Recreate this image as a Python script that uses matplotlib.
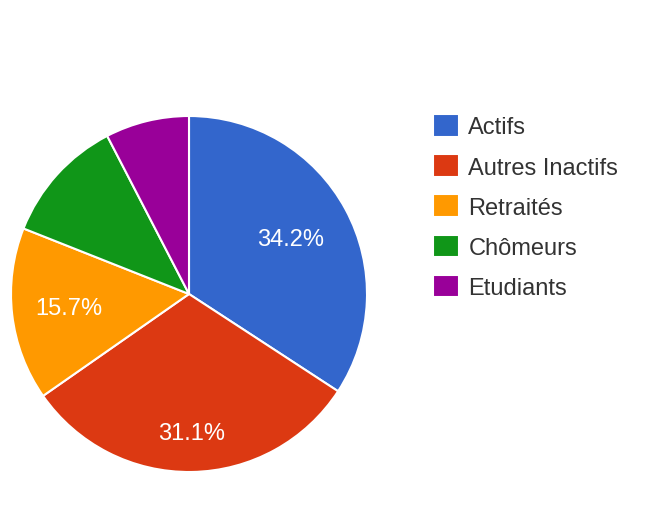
import numpy as np
import matplotlib.pyplot as plt

labels = ["Actifs", "Autres Inactifs", "Retraités", "Chômeurs", "Etudiants"]
values = [34.2, 31.1, 15.7, 11.4, 7.6]
colors = ["#3366cc", "#dc3912", "#ff9900", "#109618", "#990099"]
# how far out (fraction of radius) each percent label sits
label_dist = [0.65, 0.78, 0.68, 0.7, 0.7]

plt.rcParams['font.family'] = ['Liberation Sans', 'DejaVu Sans']

fig = plt.figure(figsize=(6.51, 5.06), dpi=100)
# pie axes: centre ~ (189, 295) px, radius ~178 px
ax = fig.add_axes([11/651, 33/506, 356/651, 356/506])


def pct(p):
    # small slices get no label, like the google chart
    return "%.1f%%" % p if p > 12 else ""


wedges, texts, autotexts = ax.pie(values, colors=colors, startangle=90,
                                  counterclock=False, autopct=pct,
                                  pctdistance=0.7, radius=1.0,
                                  wedgeprops=dict(edgecolor='white', linewidth=1.5),
                                  textprops=dict(color='white', fontsize=17))
for w, t, d in zip(wedges, autotexts, label_dist):
    a = np.deg2rad((w.theta1 + w.theta2) / 2)
    t.set_position((d * np.cos(a), d * np.sin(a)))

ax.set_xlim(-1, 1)
ax.set_ylim(-1, 1)
ax.set_aspect('equal')

fig.legend(wedges, labels, loc='upper left', bbox_to_anchor=(433/651, 1 - 115/506),
           frameon=False, fontsize=17, handlelength=1.1, handleheight=1.1,
           handletextpad=0.4, labelspacing=0.67, borderpad=0, borderaxespad=0,
           labelcolor='#333333')

fig.savefig("out.png", dpi=100)
